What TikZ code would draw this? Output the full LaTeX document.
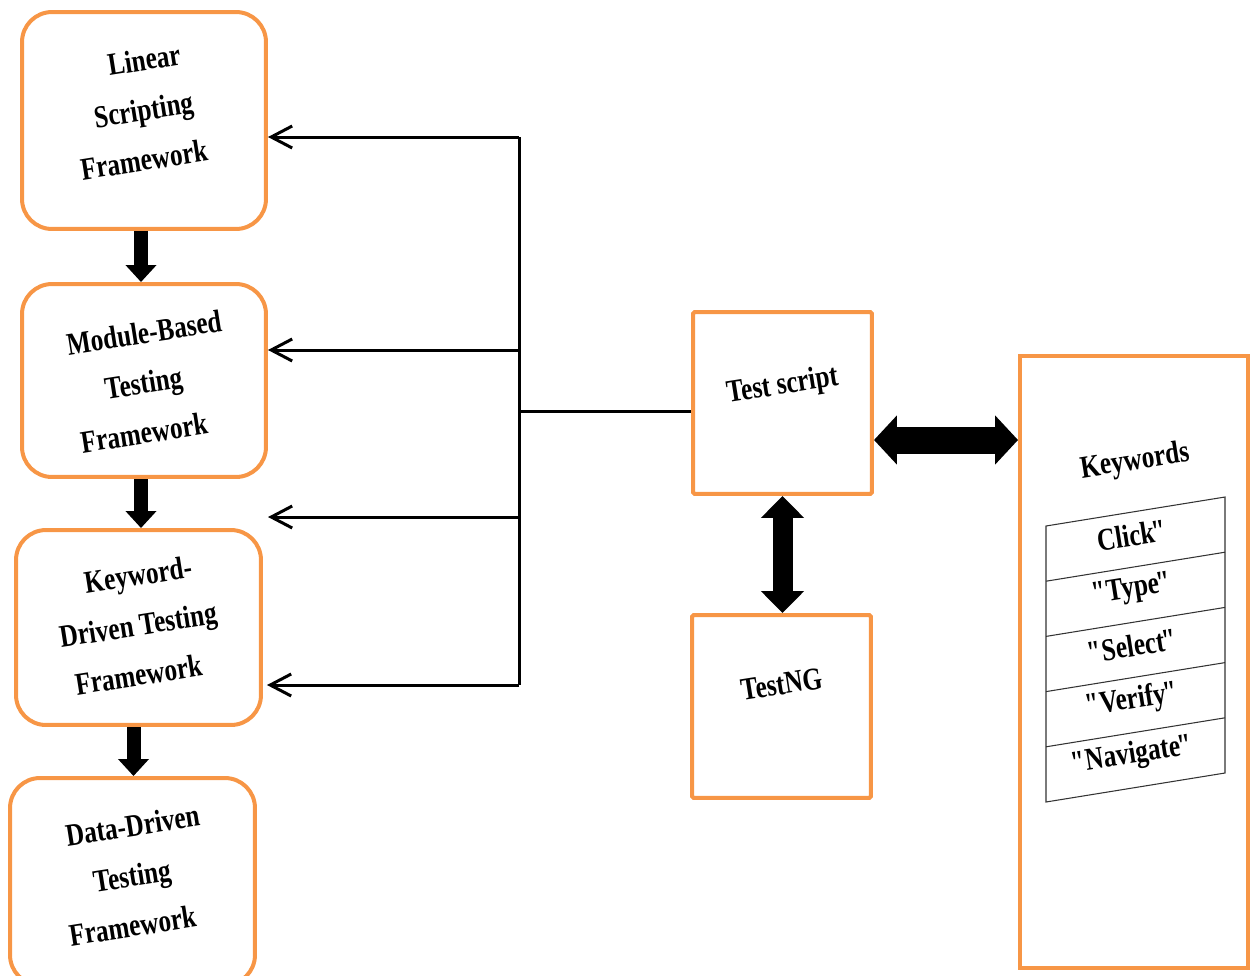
\documentclass[tikz,border=0pt]{standalone}
\usepackage{fontspec}
\setmainfont{Liberation Serif}[FakeStretch=0.8]
\usepackage{graphicx}
\usepackage{tikz}
\usetikzlibrary{arrows.meta}
\definecolor{boxorange}{RGB}{247,150,70}
\newcommand{\tilt}[1]{\smash{\rotatebox[origin=c]{9}{#1}}}
\newcommand{\stack}[2]{\raisebox{#1}[0pt][0pt]{\begin{tabular}{@{}c@{}}#2\end{tabular}}}
\newcommand{\oq}{\textquotedbl\kern-1.5pt}
\newcommand{\cq}{\kern-1.5pt\textquotedbl}

\begin{document}
\begin{tikzpicture}[x=0.02cm,y=-0.02cm,
  font=\bfseries\fontsize{18}{28.5}\selectfont]
  \tikzstyle{RoundBox}=[draw=boxorange,line width=0.08cm,rounded corners=0.6cm,
    minimum width=4.88cm,align=center,inner sep=0pt]
  \tikzstyle{SquareBox}=[draw=boxorange,line width=0.08cm,rounded corners=1pt,
    align=center,inner sep=0pt]
  \tikzstyle{ThinArrow}=[line width=0.06cm,-{Straight Barb[length=0.42cm,width=0.44cm]}]
  \tikzstyle{DownArrow}=[line width=0.28cm,-{Triangle[length=0.34cm,width=0.6cm]}]
  \tikzstyle{BothArrow}=[{Triangle[length=0.46cm,width=0.96cm]}-{Triangle[length=0.46cm,width=0.96cm]}]
  \useasboundingbox (0,0) rectangle (1251,975);
  \clip (0,0) rectangle (1251,975);
  % frameworks
  \node[RoundBox,minimum height=4.34cm] (lin) at (144,120.5)
    {\stack{0.05cm}{\tilt{Linear}\\\tilt{Scripting}\\\tilt{Framework}}};
  \node[RoundBox,minimum height=3.86cm] (mod) at (144,380.5)
    {\stack{-0.21cm}{\tilt{Module-Based}\\\tilt{Testing}\\\tilt{Framework}}};
  \node[RoundBox,minimum height=3.9cm,minimum width=4.9cm] (kw) at (138.5,627.5)
    {\stack{-0.11cm}{\tilt{Keyword-}\\\tilt{Driven Testing}\\\tilt{Framework}}};
  \node[RoundBox,minimum height=4.14cm,minimum width=4.9cm] (dd) at (132.5,881.5)
    {\stack{-0.05cm}{\tilt{Data-Driven}\\\tilt{Testing}\\\tilt{Framework}}};
  \draw[DownArrow] ([xshift=-0.06cm]lin.south) -- ([xshift=-0.06cm]lin.south |- mod.north);
  \draw[DownArrow] ([xshift=-0.06cm]mod.south) -- ([xshift=-0.06cm]mod.south |- kw.north);
  \draw[DownArrow] ([xshift=-0.1cm]kw.south) -- ([xshift=-0.1cm]kw.south |- dd.north);
  % test script side
  \node[SquareBox,minimum width=3.58cm,minimum height=3.64cm] (ts) at (782.5,403)
    {\raisebox{0.18cm}[0pt][0pt]{\rotatebox[origin=c]{9}{Test script}}};
  \node[SquareBox,minimum width=3.58cm,minimum height=3.66cm] (tng) at (781.5,706.5)
    {\raisebox{0.24cm}[0pt][0pt]{\rotatebox[origin=c]{9}{TestNG}}};
  \node[SquareBox,rounded corners=0pt,minimum width=4.56cm,minimum height=12.24cm] (kb) at (1134,662) {};
  \node (kwt) at (1135,462) {\rotatebox[origin=c]{9}{Keywords}};
  % bus
  \coordinate (busT) at (519,137);
  \coordinate (busM) at (519,411);
  \coordinate (busB) at (519,685);
  \coordinate (gap) at (268,517);
  \draw[line width=0.06cm] (busT) -- (busB);
  \draw[ThinArrow] (busT) -- (busT -| lin.east);
  \draw[ThinArrow] (519,350) -- (mod.east |- 0,350);
  \draw[ThinArrow] (gap -| busT) -- (gap);
  \draw[ThinArrow,shorten >=0.08cm] (busB) -- (busB -| kw.east);
  \draw[line width=0.06cm] (busM) -- (busM -| ts.west);
  \coordinate (dblL) at ([yshift=-0.74cm]ts.east);
  \draw[BothArrow,line width=0.54cm] (dblL) -- (dblL -| kb.west);
  \draw[BothArrow,line width=0.4cm,{Triangle[length=0.44cm,width=0.84cm]}-{Triangle[length=0.44cm,width=0.84cm]}]
    (ts.south) -- (ts.south |- tng.north);
  % keyword list
  \draw[line width=0.6pt,black!80] (1046,526) -- (1225,497) -- (1225,773) -- (1046,802) -- cycle;
  \foreach \i in {1,...,4}
    \draw[line width=0.6pt,black!80] (1046,526+55.2*\i) -- (1225,497+55.2*\i);
  \foreach \w [count=\i from 0] in {Click\cq,\oq Type\cq,\oq Select\cq,\oq Verify\cq,\oq Navigate\cq}
    \node (k\i) at (1133,535+55.2*\i) {\rotatebox[origin=c]{9}{\w}};
\end{tikzpicture}
\end{document}
